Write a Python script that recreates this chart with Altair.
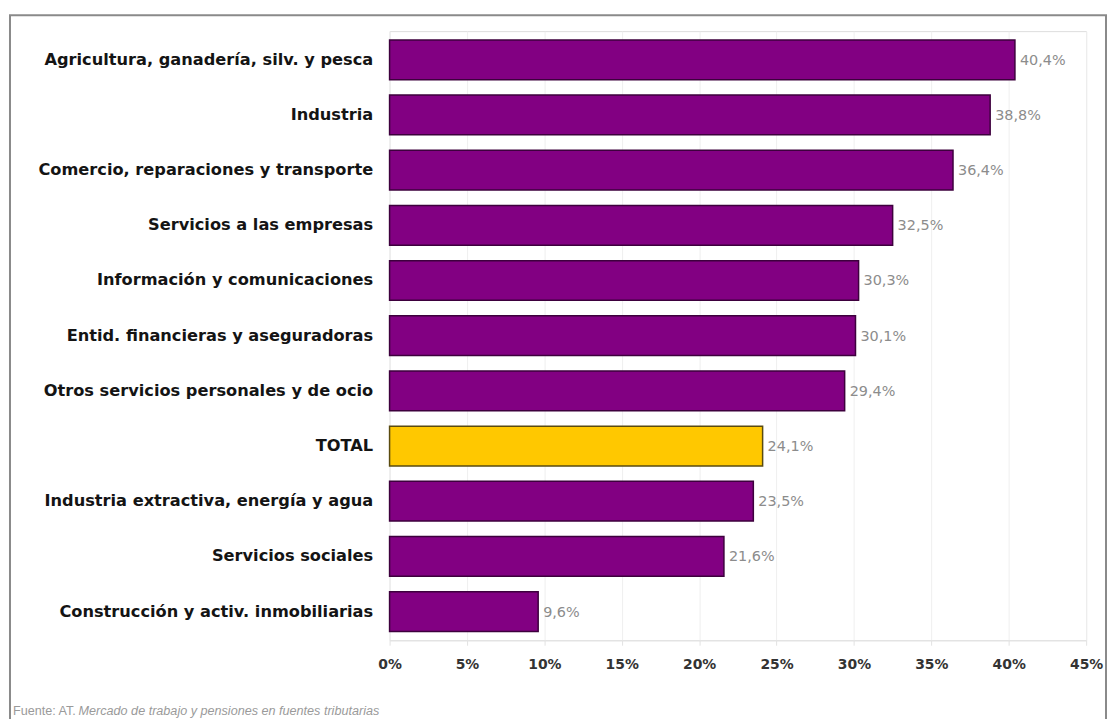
import altair as alt
import pandas as pd

categories = [
    "Agricultura, ganadería, silv. y pesca",
    "Industria",
    "Comercio, reparaciones y transporte",
    "Servicios a las empresas",
    "Información y comunicaciones",
    "Entid. financieras y aseguradoras",
    "Otros servicios personales y de ocio",
    "TOTAL",
    "Industria extractiva, energía y agua",
    "Servicios sociales",
    "Construcción y activ. inmobiliarias",
]
values = [40.4, 38.8, 36.4, 32.5, 30.3, 30.1, 29.4, 24.1, 23.5, 21.6, 9.6]
tick_values = [0, 5, 10, 15, 20, 25, 30, 35, 40, 45]
highlight = "TOTAL"
source_prefix = "Fuente: AT."
source_title = "Mercado de trabajo y pensiones en fuentes tributarias"

df = pd.DataFrame({"sector": categories, "pct": values})
df["label"] = df["pct"].map(lambda v: f"{v:.1f}".replace(".", ",") + "%")

W, H = 701, 613

x = alt.X(
    "pct:Q",
    scale=alt.Scale(domain=[0, 45], nice=False),
    axis=alt.Axis(
        values=tick_values,
        labelExpr="datum.value + '%'",
        labelFlush=False,
        title=None,
        grid=True,
        gridColor="#efefef",
        domainColor="#e2e2e2",
        tickColor="#e2e2e2",
        tickSize=5,
        labelFont="DejaVu Sans",
        labelFontWeight="bold",
        labelFontSize=14,
        labelColor="#333333",
        labelPadding=12,
    ),
)
y = alt.Y(
    "sector:N",
    sort=categories,
    scale=alt.Scale(paddingInner=0.28, paddingOuter=0.16),
    axis=alt.Axis(
        title=None,
        ticks=False,
        domain=False,
        labelFont="DejaVu Sans",
        labelFontWeight="bold",
        labelFontSize=16.3,
        labelColor="#141414",
        labelPadding=17,
        labelLimit=420,
    ),
)

base = alt.Chart(df)

bars = base.mark_bar(strokeWidth=1.5).encode(
    x=x,
    y=y,
    fill=alt.condition(alt.datum.sector == highlight, alt.value("#FFC800"), alt.value("#820082")),
    stroke=alt.condition(alt.datum.sector == highlight, alt.value("#5a4b10"), alt.value("#3d003d")),
)

labels = base.mark_text(
    align="left", baseline="middle", dx=5, dy=1, fontSize=14.5, font="DejaVu Sans", color="#8c8c8c"
).encode(x="pct:Q", y=alt.Y("sector:N", sort=categories), text="label:N")

one = pd.DataFrame({"k": [0]})
frame = alt.Chart(one).mark_rect(fillOpacity=0, stroke="#8a8a8a", strokeWidth=2).encode(
    x=alt.value(-382), x2=alt.value(721), y=alt.value(-16), y2=alt.value(760)
)
src1 = alt.Chart(one).mark_text(
    align="left", baseline="middle", fontSize=12.7, font="Liberation Sans", color="#9a9a9a"
).encode(x=alt.value(-379), y=alt.value(684), text=alt.value(source_prefix))
src2 = alt.Chart(one).mark_text(
    align="left", baseline="middle", fontSize=12.7, font="Liberation Sans", fontStyle="italic", color="#9a9a9a"
).encode(x=alt.value(-313), y=alt.value(684), text=alt.value(source_title))

chart = (
    alt.layer(bars, labels, frame, src1, src2)
    .properties(
        width=W,
        height=H,
        autosize=alt.AutoSizeParams(type="none"),
        padding={"left": 384, "top": 21, "right": 21, "bottom": 77},
    )
    .configure_view(stroke=None)
    .configure(background="white")
)

chart.save("out.html", embed_options={"renderer": "svg", "actions": False})
